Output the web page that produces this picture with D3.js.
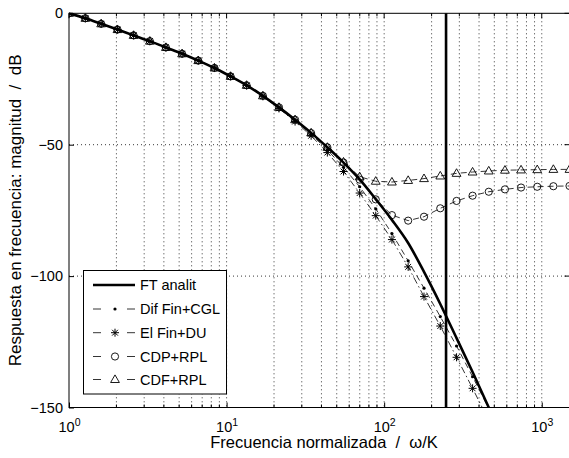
<!DOCTYPE html>
<html>
<head>
<meta charset="utf-8">
<script src="https://cdn.jsdelivr.net/npm/d3@7"></script>
<style>
  body { margin: 0; background: #fff; }
  svg { display: block; font-family: "Liberation Sans", Arial, sans-serif; }
</style>
</head>
<body>
<div id="chart"></div>
<script>
// normalized frequency of the sampled points
var freq = [1, 1.27, 1.60, 2.03, 2.57, 3.26, 4.12, 5.22, 6.61, 8.37, 10.6, 13.4, 17.0, 21.5, 27.2, 34.4,
            43.6, 55.2, 69.9, 88.4, 112, 142, 179, 227, 288, 364, 461, 584, 739, 936, 1185, 1500];

// magnitude in dB per series
var ftDb      = [0, -1.9, -4.0, -6.2, -8.4, -10.6, -13.0, -15.4, -18.0, -20.8, -24.0, -27.4, -31.4, -35.8, -40.5, -45.5,
                 -51.0, -56.8, -63.2, -70.7, -78.6, -87.4, -98.4, -110.6, -123.6, -136.5, -150.0, -164.0];
var difFinCgl = [0, -1.9, -4.0, -6.2, -8.4, -10.6, -13.0, -15.4, -18.0, -20.8, -24.0, -27.4, -31.5, -36.0, -40.8, -46.0,
                 -52.0, -58.6, -66.0, -74.4, -83.8, -94.2, -104.6, -115.4, -126.6, -138.3, -150.3, -163.0];
var elFinDu   = [0, -1.9, -4.0, -6.2, -8.4, -10.6, -13.0, -15.4, -18.0, -20.8, -24.0, -27.5, -31.6, -36.2, -41.2, -46.6,
                 -53.0, -60.2, -68.4, -77.0, -86.1, -96.5, -107.8, -119.0, -130.9, -142.7, -155.0, -168.0];
var cdpRpl    = [0, -1.9, -4.0, -6.2, -8.4, -10.6, -13.0, -15.4, -18.0, -20.8, -24.0, -27.4, -31.4, -35.8, -40.5, -45.6,
                 -51.0, -56.8, -63.3, -70.8, -76.8, -78.9, -77.4, -74.2, -71.4, -69.4, -67.9, -67.0, -66.3, -66.0, -65.8, -65.7];
var cdfRpl    = [0, -1.9, -4.0, -6.2, -8.4, -10.6, -13.0, -15.4, -18.0, -20.8, -24.0, -27.4, -31.4, -35.8, -40.5, -45.5,
                 -51.0, -56.6, -62.2, -63.9, -64.2, -63.6, -62.9, -61.9, -60.9, -60.4, -60.0, -59.7, -59.6, -59.5, -59.4, -59.4];

var cutFreq = 247;

var seriesNames = ['FT analit', 'Dif Fin+CGL', 'El Fin+DU', 'CDP+RPL', 'CDF+RPL'];
var xTicks = [1, 10, 100, 1000],
    xTickExp = ['0', '1', '2', '3'],
    yTicks = [0, -50, -100, -150];

var W = 569, H = 458;
var margin = {top: 13.3, left: 69, bottom: 407.5, right: 569.5};

var svg = d3.select('#chart').append('svg')
  .attr('width', W)
  .attr('height', H);

var x = d3.scaleLog().domain([1, 1500]).range([margin.left, margin.right]),
    y = d3.scaleLinear().domain([-150, 0]).range([margin.bottom, margin.top]);

svg.append('defs').append('clipPath')
    .attr('id', 'clip')
  .append('rect')
    .attr('x', margin.left)
    .attr('y', margin.top - 0.5)
    .attr('width', margin.right - margin.left)
    .attr('height', margin.bottom - margin.top + 1);

// grid
var allTicks = x.ticks();
var grid = svg.append('g').attr('class', 'grid');
grid.selectAll('line.gx')
  .data(allTicks.filter(function(d) { return d > 1; }))
  .enter().append('line')
    .attr('x1', function(d) { return x(d); })
    .attr('x2', function(d) { return x(d); })
    .attr('y1', margin.top)
    .attr('y2', margin.bottom)
    .attr('stroke', '#222')
    .attr('stroke-width', 0.9)
    .attr('stroke-dasharray', '1,3');
grid.selectAll('line.gy')
  .data([-50, -100])
  .enter().append('line')
    .attr('x1', margin.left)
    .attr('x2', margin.right)
    .attr('y1', function(d) { return y(d); })
    .attr('y2', function(d) { return y(d); })
    .attr('stroke', '#222')
    .attr('stroke-width', 0.9)
    .attr('stroke-dasharray', '1,3');

// axes
var xAxis = d3.axisBottom(x).tickValues(xTicks).tickSizeInner(-5).tickSizeOuter(0).tickFormat(''),
    yAxis = d3.axisLeft(y).tickValues(yTicks).tickSizeInner(-5).tickSizeOuter(0).tickPadding(6);

var gx = svg.append('g')
  .attr('transform', 'translate(0,' + margin.bottom + ')')
  .call(xAxis);
gx.select('.domain').remove();
gx.selectAll('.tick line').attr('stroke', '#000');
gx.selectAll('.tick').each(function(d, i) {
  var t = d3.select(this).append('text')
    .attr('fill', '#000')
    .attr('y', 24)
    .attr('text-anchor', 'middle')
    .attr('font-size', '14.5px');
  t.append('tspan').text('10');
  t.append('tspan').attr('dy', '-0.55em').attr('font-size', '10.5px').text(xTickExp[i]);
});

// minor x ticks, bottom and top
var minor = allTicks.filter(function(d) { return xTicks.indexOf(d) < 0; });
svg.append('g').selectAll('line')
  .data(minor)
  .enter().append('line')
    .attr('x1', function(d) { return x(d); })
    .attr('x2', function(d) { return x(d); })
    .attr('y1', margin.bottom)
    .attr('y2', margin.bottom - 3)
    .attr('stroke', '#000');
svg.append('g').selectAll('line')
  .data(minor)
  .enter().append('line')
    .attr('x1', function(d) { return x(d); })
    .attr('x2', function(d) { return x(d); })
    .attr('y1', margin.top)
    .attr('y2', margin.top + 3)
    .attr('stroke', '#000');
svg.append('g').selectAll('line')
  .data(xTicks)
  .enter().append('line')
    .attr('x1', function(d) { return x(d); })
    .attr('x2', function(d) { return x(d); })
    .attr('y1', margin.top)
    .attr('y2', margin.top + 5)
    .attr('stroke', '#000');

var gy = svg.append('g')
  .attr('transform', 'translate(' + margin.left + ',0)')
  .call(yAxis);
gy.select('.domain').remove();
gy.selectAll('.tick line').attr('stroke', '#000');
gy.selectAll('.tick text')
  .attr('fill', '#000')
  .attr('font-size', '14.5px')
  .attr('font-family', '"Liberation Sans", Arial, sans-serif');
svg.append('g').selectAll('line')
  .data(yTicks)
  .enter().append('line')
    .attr('x1', margin.right)
    .attr('x2', margin.right - 5)
    .attr('y1', function(d) { return y(d); })
    .attr('y2', function(d) { return y(d); })
    .attr('stroke', '#000');

// box
svg.append('rect')
  .attr('x', margin.left)
  .attr('y', margin.top)
  .attr('width', margin.right - margin.left)
  .attr('height', margin.bottom - margin.top)
  .attr('fill', 'none')
  .attr('stroke', '#000')
  .attr('stroke-width', 1);

// series
var plot = svg.append('g').attr('clip-path', 'url(#clip)');

function pts(vals) {
  return vals.map(function(v, i) { return {f: freq[i], v: v}; });
}

var line = d3.line()
  .x(function(d) { return x(d.f); })
  .y(function(d) { return y(d.v); });

var smooth = d3.line()
  .curve(d3.curveMonotoneX)
  .x(function(d) { return x(d.f); })
  .y(function(d) { return y(d.v); });

var starPath = 'M-4,0H4M0,-4V4M-2.9,-2.9L2.9,2.9M-2.9,2.9L2.9,-2.9',
    triPath = 'M0,-4.6L4.4,3L-4.4,3Z';

var series = [
  {name: seriesNames[1], data: pts(difFinCgl), dash: '6,4', marker: 'dot'},
  {name: seriesNames[2], data: pts(elFinDu), dash: '7,3,1.5,3', marker: 'star'},
  {name: seriesNames[3], data: pts(cdpRpl), dash: '6,4', marker: 'circle'},
  {name: seriesNames[4], data: pts(cdfRpl), dash: '6,4', marker: 'tri'}
];

function drawMarker(sel, type) {
  if (type === 'dot') {
    sel.append('circle').attr('r', 1.6).attr('fill', '#000');
  } else if (type === 'star') {
    sel.append('path').attr('d', starPath).attr('stroke', '#000').attr('stroke-width', 1).attr('fill', 'none');
  } else if (type === 'circle') {
    sel.append('circle').attr('r', 3.6).attr('fill', 'none').attr('stroke', '#000').attr('stroke-width', 0.9);
  } else if (type === 'tri') {
    sel.append('path').attr('d', triPath).attr('fill', 'none').attr('stroke', '#000').attr('stroke-width', 0.9);
  }
}

plot.append('path')
  .datum(pts(ftDb))
  .attr('d', smooth)
  .attr('fill', 'none')
  .attr('stroke', '#000')
  .attr('stroke-width', 2.6);

series.forEach(function(s) {
  plot.append('path')
    .datum(s.data)
    .attr('d', line)
    .attr('fill', 'none')
    .attr('stroke', '#000')
    .attr('stroke-width', 0.8)
    .attr('stroke-dasharray', s.dash);
  plot.selectAll(null)
    .data(s.data)
    .enter().append('g')
      .attr('transform', function(d) { return 'translate(' + x(d.f) + ',' + y(d.v) + ')'; })
      .each(function() { drawMarker(d3.select(this), s.marker); });
});

// cut-off frequency line
plot.append('line')
  .attr('x1', x(cutFreq))
  .attr('x2', x(cutFreq))
  .attr('y1', margin.top)
  .attr('y2', margin.bottom)
  .attr('stroke', '#000')
  .attr('stroke-width', 2.6);

// labels
svg.append('text')
  .attr('x', 324)
  .attr('y', 448)
  .attr('text-anchor', 'middle')
  .attr('font-size', '16.5px')
  .attr('xml:space', 'preserve')
  .text('Frecuencia normalizada  /  \u03c9/K');

svg.append('text')
  .attr('transform', 'translate(21,' + ((margin.top + margin.bottom) / 2) + ') rotate(-90)')
  .attr('text-anchor', 'middle')
  .attr('font-size', '17px')
  .attr('xml:space', 'preserve')
  .text('Respuesta en frecuencia: magnitud  /  dB');

// legend
var lg = svg.append('g');
lg.append('rect')
  .attr('x', 83.5)
  .attr('y', 270.5)
  .attr('width', 143)
  .attr('height', 123.5)
  .attr('fill', '#fff')
  .attr('stroke', '#000')
  .attr('stroke-width', 1);

var rowY = [285, 309, 332.7, 356.5, 379.5];
seriesNames.forEach(function(name, i) {
  var row = lg.append('g').attr('transform', 'translate(0,' + rowY[i] + ')');
  if (i === 0) {
    row.append('line').attr('x1', 93).attr('x2', 135).attr('stroke', '#000').attr('stroke-width', 2.6);
  } else {
    var s = series[i - 1];
    row.append('line').attr('x1', 93).attr('x2', 101).attr('stroke', '#000').attr('stroke-width', 0.8);
    row.append('line').attr('x1', 127).attr('x2', 135).attr('stroke', '#000').attr('stroke-width', 0.8);
    var m = row.append('g').attr('transform', 'translate(115,0)');
    drawMarker(m, s.marker);
  }
  row.append('text')
    .attr('x', 140)
    .attr('y', 5)
    .attr('font-size', '14.5px')
    .text(name);
});
</script>
</body>
</html>
